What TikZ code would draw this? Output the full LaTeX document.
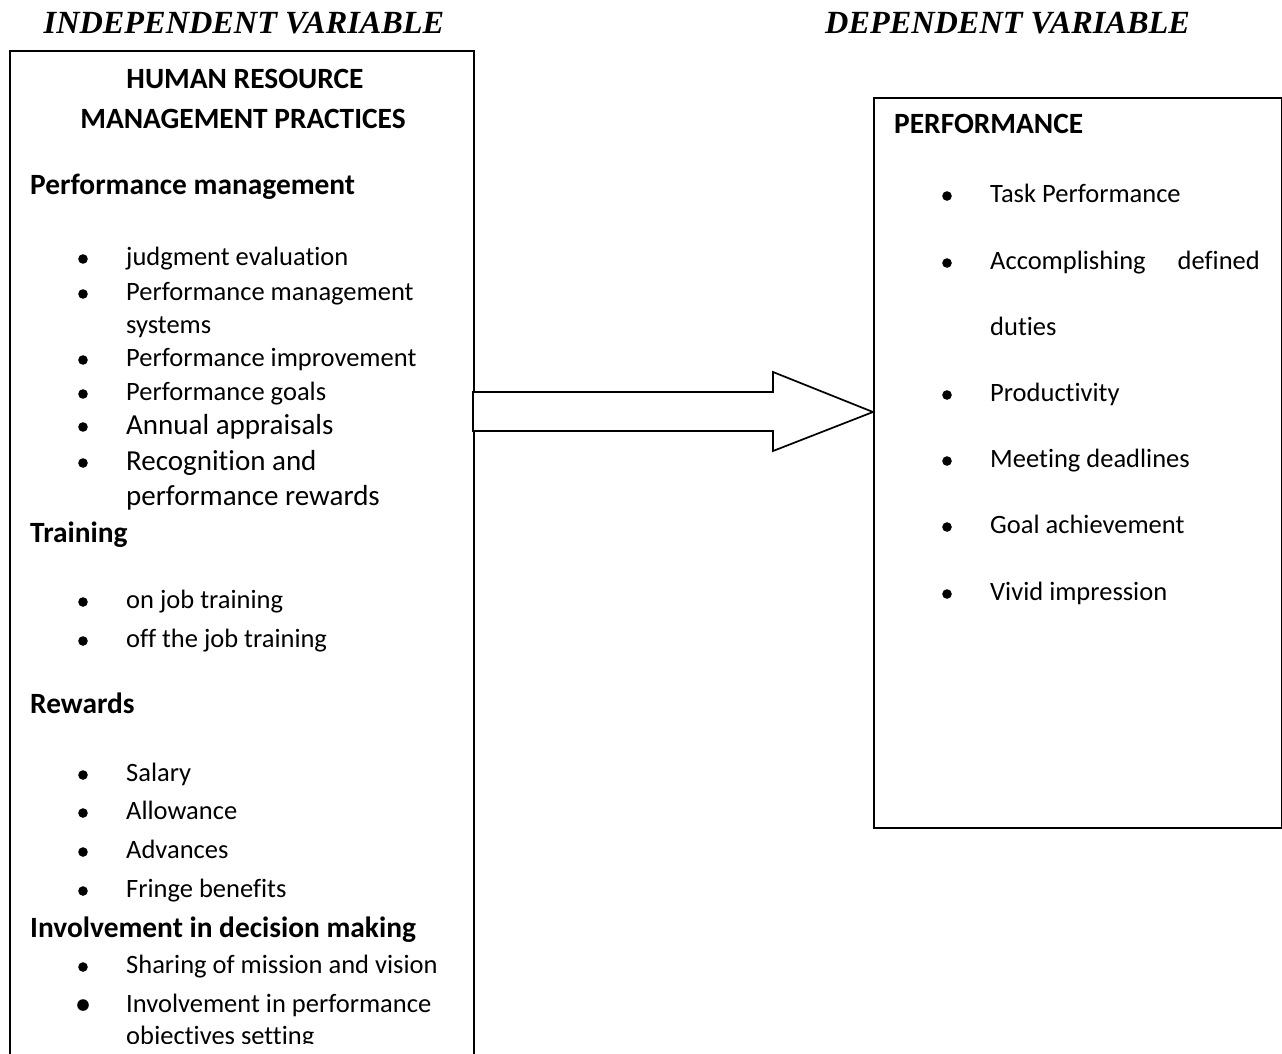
\documentclass[tikz,border=0pt]{standalone}
\usepackage{fontspec}
\setmainfont{Carlito}[RawFeature={-liga,-clig,-calt}]
\newfontfamily\hdrfont{Liberation Serif}
\begin{document}
\begin{tikzpicture}[x=1pt,y=-1pt,
  boxline/.style={draw=black, line width=1.7pt},
  txt/.style={anchor=base west, inner sep=0pt, font=\fontsize{26.5}{30}\selectfont},
  bigtxt/.style={anchor=base west, inner sep=0pt, font=\fontsize{29}{33}\selectfont},
  headtxt/.style={anchor=base west, inner sep=0pt, font=\fontsize{29.4}{33}\selectfont\bfseries},
  titletxt/.style={anchor=base, inner sep=0pt, font=\fontsize{29.4}{33}\selectfont\bfseries},
  vartxt/.style={anchor=base, inner sep=0pt, font=\hdrfont\fontsize{32.3}{37}\selectfont\bfseries\itshape},
  dot/.style={fill=black, draw=none},
]
\useasboundingbox (0,0) rectangle (1282,1053);
\fill[white] (0,0) rectangle (1282,1053);
\clip (0,0) rectangle (1282,1053);

% column headings
\node[vartxt] (iv) at (244,33) {INDEPENDENT VARIABLE};
\node[vartxt] (dv) at (1007.5,33) {DEPENDENT VARIABLE};

% left box (runs off the bottom of the page)
\node[boxline, rectangle, anchor=north west, minimum width=464pt, minimum height=1020pt, inner sep=0pt] (hrm) at (9,50) {};

% right box
\node[boxline, rectangle, anchor=north west, minimum width=408pt, minimum height=730pt, inner sep=0pt] (perf) at (873,97) {};

% block arrow from the practices to performance
\coordinate (a1) at (473,392);
\coordinate (a2) at (773,392);
\coordinate (a3) at (773,372);
\coordinate (tip) at (873,412);
\coordinate (a5) at (773,451);
\coordinate (a6) at (773,431);
\coordinate (a7) at (473,431);
\draw[line width=1.7pt, fill=white, line join=miter] (a1) -- (a2) -- (a3) -- (tip) -- (a5) -- (a6) -- (a7) -- cycle;

% ---- left box content ----
\node[titletxt] (t1) at (245,88) {HUMAN RESOURCE};
\node[titletxt] (t2) at (243,128) {MANAGEMENT PRACTICES};

\node[headtxt] (h1) at (30,194) {Performance management};
\fill[dot] (83,259) circle (4.8);
\node[txt] (l1) at (126,265) {judgment evaluation};
\fill[dot] (83,294) circle (4.8);
\node[txt] (l2) at (126,300) {Performance management};
\node[txt] (l2b) at (126,333) {systems};
\fill[dot] (83,360) circle (4.8);
\node[txt] (l3) at (126,366) {Performance improvement};
\fill[dot] (83,394) circle (4.8);
\node[txt] (l4) at (126,400) {Performance goals};
\fill[dot] (83,427) circle (4.8);
\node[bigtxt] (l5) at (126,434) {Annual appraisals};
\fill[dot] (83,463) circle (4.8);
\node[bigtxt] (l6) at (126,470) {Recognition and};
\node[bigtxt] (l6b) at (126,505) {performance rewards};

\node[headtxt] (h2) at (30,542) {Training};
\fill[dot] (83,602) circle (4.8);
\node[txt] (m1) at (126,608) {on job training};
\fill[dot] (83,641) circle (4.8);
\node[txt] (m2) at (126,647) {off the job training};

\node[headtxt] (h3) at (30,713) {Rewards};
\fill[dot] (83,775) circle (4.8);
\node[txt] (r1) at (126,781) {Salary};
\fill[dot] (83,813) circle (4.8);
\node[txt] (r2) at (126,819) {Allowance};
\fill[dot] (83,852) circle (4.8);
\node[txt] (r3) at (126,858) {Advances};
\fill[dot] (83,891) circle (4.8);
\node[txt] (r4) at (126,897) {Fringe benefits};

\node[headtxt] (h4) at (30,937) {Involvement in decision making};
\fill[dot] (83,967) circle (4.8);
\node[txt] (d1) at (126,973) {Sharing of mission and vision};
\fill[dot] (83,1005) circle (5.8);
\node[txt] (d2) at (126,1012) {Involvement in performance};
\begin{scope}
  \clip (0,0) rectangle (1282,1043);
  \node[txt] (d2b) at (126,1044) {objectives setting};
\end{scope}

% ---- right box content ----
\node[headtxt] (ph) at (894,133) {PERFORMANCE};
\fill[dot] (947,196) circle (4.8);
\node[txt] (p1) at (990,202) {Task Performance};
\fill[dot] (947,263) circle (4.8);
\node[txt] (p2) at (990,269) {Accomplishing};
\node[txt, anchor=base east] (p2r) at (1260,269) {defined};
\node[txt] (p2b) at (990,335) {duties};
\fill[dot] (947,395) circle (4.8);
\node[txt] (p3) at (990,401) {Productivity};
\fill[dot] (947,461) circle (4.8);
\node[txt] (p4) at (990,467) {Meeting deadlines};
\fill[dot] (947,527) circle (4.8);
\node[txt] (p5) at (990,533) {Goal achievement};
\fill[dot] (947,594) circle (4.8);
\node[txt] (p6) at (990,600) {Vivid impression};
\end{tikzpicture}
\end{document}
